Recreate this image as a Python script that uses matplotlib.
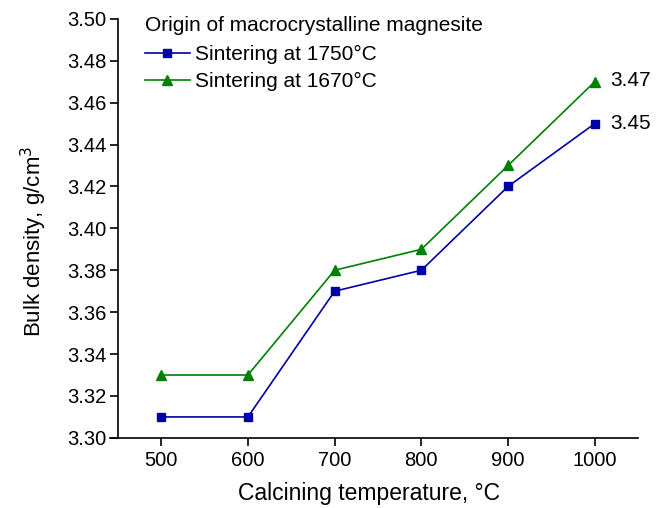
import matplotlib
matplotlib.use('Agg')
import matplotlib.pyplot as plt

temps = [500, 600, 700, 800, 900, 1000]
dens_1750 = [3.31, 3.31, 3.37, 3.38, 3.42, 3.45]
dens_1670 = [3.33, 3.33, 3.38, 3.39, 3.43, 3.47]
yticks = [3.30, 3.32, 3.34, 3.36, 3.38, 3.40, 3.42, 3.44, 3.46, 3.48, 3.50]

plt.rcParams['font.family'] = ['Liberation Sans', 'DejaVu Sans']

fig = plt.figure(figsize=(6.62, 5.08), dpi=100)
ax = fig.add_axes([0.178, 0.138, 0.786, 0.825])

ax.plot(temps, dens_1750, color='#0000a8', marker='s', markersize=6,
        linewidth=1.2, label='Sintering at 1750°C')
ax.plot(temps, dens_1670, color='#008000', marker='^', markersize=7.5,
        linewidth=1.2, label='Sintering at 1670°C')

ax.annotate('%.2f' % dens_1670[-1], (temps[-1], dens_1670[-1]),
            xytext=(11, 1), textcoords='offset points', va='center',
            fontsize=15, annotation_clip=False)
ax.annotate('%.2f' % dens_1750[-1], (temps[-1], dens_1750[-1]),
            xytext=(11, 0), textcoords='offset points', va='center',
            fontsize=15, annotation_clip=False)

ax.set_xlim(450, 1050)
ax.set_ylim(3.30, 3.50)
ax.set_xticks(temps)
ax.set_yticks(yticks)
ax.set_yticklabels(['%.2f' % v for v in yticks])
ax.tick_params(labelsize=14.5, length=6, width=1.2, direction='out')
ax.tick_params(axis='y', pad=2)
ax.spines['top'].set_visible(False)
ax.spines['right'].set_visible(False)
ax.spines['left'].set_linewidth(1.2)
ax.spines['bottom'].set_linewidth(1.2)
ax.spines['bottom'].set_bounds(440.8, 1050)

ax.set_xlabel('Calcining temperature, °C', fontsize=16.5)
ax.xaxis.set_label_coords(0.482, -0.105)
ax.set_ylabel('Bulk density, g/cm$^3$', fontsize=16)
ax.yaxis.set_label_coords(-0.132, 0.468)

leg = ax.legend(loc='upper left', frameon=False, fontsize=15,
                title='Origin of macrocrystalline magnesite',
                title_fontsize=15, handlelength=2.15, handletextpad=0.25,
                borderaxespad=0, borderpad=0, labelspacing=0.35,
                bbox_to_anchor=(145 / 662, 1 - 16 / 508),
                bbox_transform=fig.transFigure)
leg._legend_box.align = 'left'
leg._legend_box.sep = 7.5

fig.savefig('out.png', dpi=100)
